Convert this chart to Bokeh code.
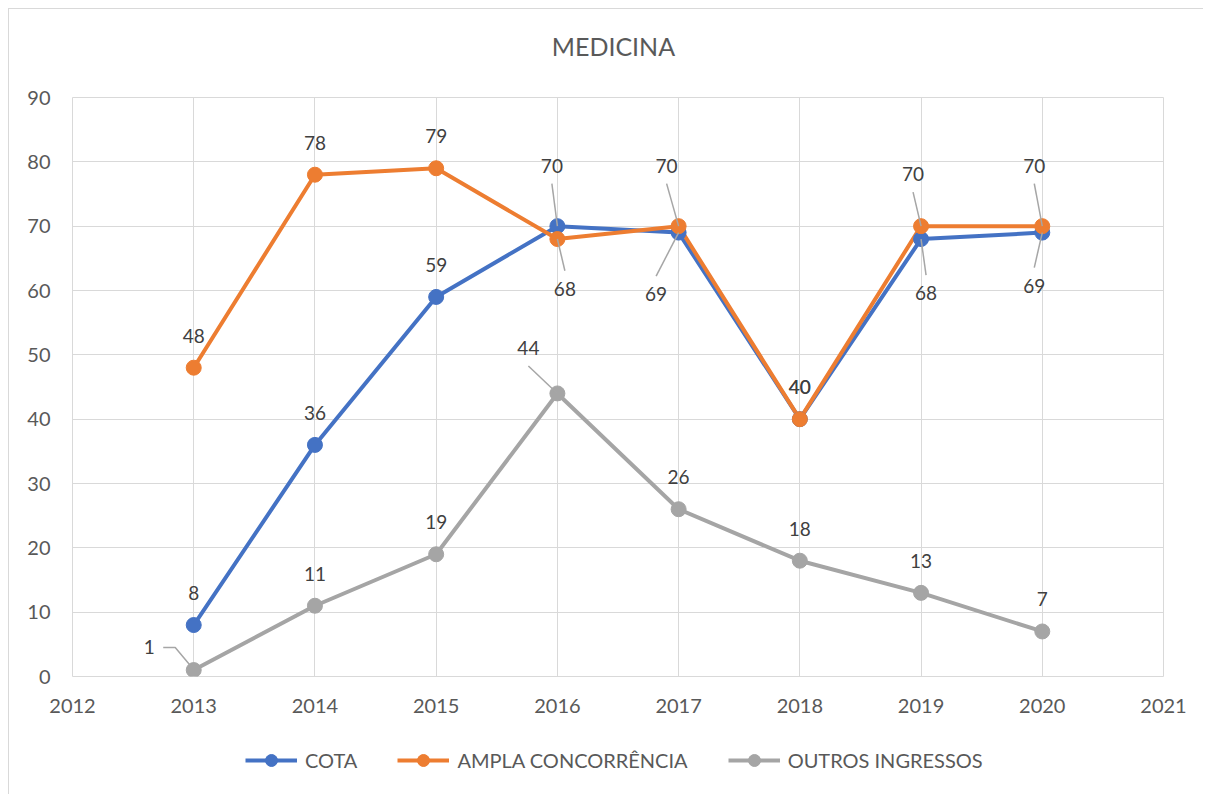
from bokeh.plotting import figure
from bokeh.layouts import column
from bokeh.models import Range1d, FixedTicker, Legend, LegendItem, Label
from bokeh.embed import file_html
from bokeh.resources import INLINE
from bokeh.core.properties import value

# ---------------- data ----------------
years = [2013, 2014, 2015, 2016, 2017, 2018, 2019, 2020]
cota = [8, 36, 59, 70, 69, 40, 68, 69]
ampla = [48, 78, 79, 68, 70, 40, 70, 70]
outros = [1, 11, 19, 44, 26, 18, 13, 7]
series_names = ["COTA", "AMPLA CONCORRÊNCIA", "OUTROS INGRESSOS"]
title_text = "MEDICINA"
x_ticks = list(range(2012, 2022))
y_ticks = list(range(0, 100, 10))

# ---------------- style / label placement (screen px, up = +) ----------------
colors = ["#4472C4", "#ED7D31", "#A5A5A5"]
FONT = "Lato"
DEF = (0, 32)
cota_off = [DEF, DEF, DEF, (-5.5, 60.5), (-22.5, -61.6), DEF, (5, -54), (-8, -53)]
ampla_off = [DEF, DEF, DEF, (7.5, -49.7), (-12, 60.5), DEF, (-8, 52), (-8, 60.5)]
outros_off = [(-44.5, 22.6), DEF, DEF, (-29, 45.5), DEF, DEF, DEF, DEF]

BL, BR, BT, BB = 63, 40, 20, 52
TH = 68            # height of the title strip
FW, FH = 1091, 579
X0, X1, Y0, Y1 = 2012, 2021, 0, 90
PX = FW / (X1 - X0)
PY = FH / (Y1 - Y0)
LW = BL + FW + BR

# ---------------- title strip ----------------
t = figure(width=LW, height=TH, output_backend="svg", toolbar_location=None,
           x_range=Range1d(0, 1), y_range=Range1d(0, 1), title=None,
           min_border=0, x_axis_type=None, y_axis_type=None)
t.grid.visible = False
t.outline_line_color = None
t.background_fill_color = "white"
t.border_fill_color = "white"
t.add_layout(Label(x=0.4958, y=1 - 36.5 / TH, text=title_text,
                   text_align="center", text_baseline="middle",
                   text_font=FONT, text_font_size="25px",
                   text_color="#595959"))

# ---------------- main chart ----------------
p = figure(frame_width=FW, frame_height=FH, output_backend="svg",
           toolbar_location=None, title=None,
           x_range=Range1d(X0, X1), y_range=Range1d(Y0, Y1),
           min_border_left=BL, min_border_right=BR,
           min_border_top=BT, min_border_bottom=BB)
p.background_fill_color = "white"
p.border_fill_color = "white"
p.outline_line_color = "#D9D9D9"
p.outline_line_width = 1

for ax, ticks in ((p.xaxis[0], x_ticks), (p.yaxis[0], y_ticks)):
    ax.ticker = FixedTicker(ticks=ticks)
    ax.axis_line_color = None
    ax.major_tick_line_color = None
    ax.minor_tick_line_color = None
    ax.major_tick_out = 0
    ax.major_tick_in = 0
    ax.major_label_text_font = FONT
    ax.major_label_text_font_size = "20px"
    ax.major_label_text_color = "#595959"
p.xaxis.major_label_standoff = 22
p.yaxis.major_label_standoff = 22
p.xgrid.ticker = FixedTicker(ticks=x_ticks)
p.ygrid.ticker = FixedTicker(ticks=y_ticks)
for g in (p.xgrid[0], p.ygrid[0]):
    g.grid_line_color = "#D9D9D9"
    g.grid_line_width = 1

all_series = [cota, ampla, outros]
for vals, col in zip(all_series, colors):
    p.line(years, vals, line_color=col, line_width=4, line_join="round")

# leader lines
lead_xs, lead_ys = [], []
for vals, offs in zip(all_series, [cota_off, ampla_off, outros_off]):
    for x, v, (dx, dy) in zip(years, vals, offs):
        if (dx, dy) == DEF:
            continue
        lx = x + dx / PX
        ly = v + dy / PY
        if abs(dx) > abs(dy):
            s = 1 if dx < 0 else -1
            xs = [lx + s * 14 / PX, lx + s * 26 / PX, x - s * 3 / PX]
            ys = [ly, ly, v + 4 / PY]
        else:
            s = -1 if dy > 0 else 1
            xs = [lx, x]
            ys = [ly + s * 18 / PY, v]
        lead_xs.append(xs)
        lead_ys.append(ys)

for vals, col in zip(all_series, colors):
    p.scatter(years, vals, size=15, fill_color=col, line_color=col)

p.multi_line(lead_xs, lead_ys, line_color="#A6A6A6", line_width=1.5)

# data labels
for vals, offs in zip(all_series, [cota_off, ampla_off, outros_off]):
    p.text(x=years, y=vals, text=[str(v) for v in vals],
           x_offset=[o[0] for o in offs], y_offset=[-o[1] for o in offs],
           text_align="center", text_baseline="middle",
           text_font=value(FONT), text_font_size="19px", text_color="#404040")

# ---------------- legend strip (its own frame shows none of the data) ----------------
LH = 66
q = figure(width=LW, height=LH, output_backend="svg", toolbar_location=None,
           x_range=Range1d(0, 1), y_range=Range1d(0, 1), title=None,
           min_border=0, x_axis_type=None, y_axis_type=None)
q.grid.visible = False
q.outline_line_color = None
q.background_fill_color = "white"
q.border_fill_color = "white"
leg_items = []
for name, vals, col in zip(series_names, all_series, colors):
    l2 = q.line(years, vals, line_color=col, line_width=4)
    s2 = q.scatter(years, vals, size=12, fill_color=col, line_color=col)
    leg_items.append(LegendItem(label=name, renderers=[l2, s2]))
legend = Legend(items=leg_items, orientation="horizontal", location=(173, 19),
                glyph_width=52, glyph_height=30, label_standoff=8, spacing=40,
                padding=0, margin=0, border_line_color=None,
                background_fill_alpha=0,
                label_text_font=FONT, label_text_font_size="20px",
                label_text_color="#595959", label_height=30)
q.add_layout(legend)

layout = column(t, p, q, spacing=0)
layout.styles = {"margin-left": "8px", "margin-top": "8px",
                 "border-top": "1px solid #D9D9D9",
                 "border-left": "1px solid #D9D9D9"}

open("out.html", "w").write(file_html(layout, INLINE))
